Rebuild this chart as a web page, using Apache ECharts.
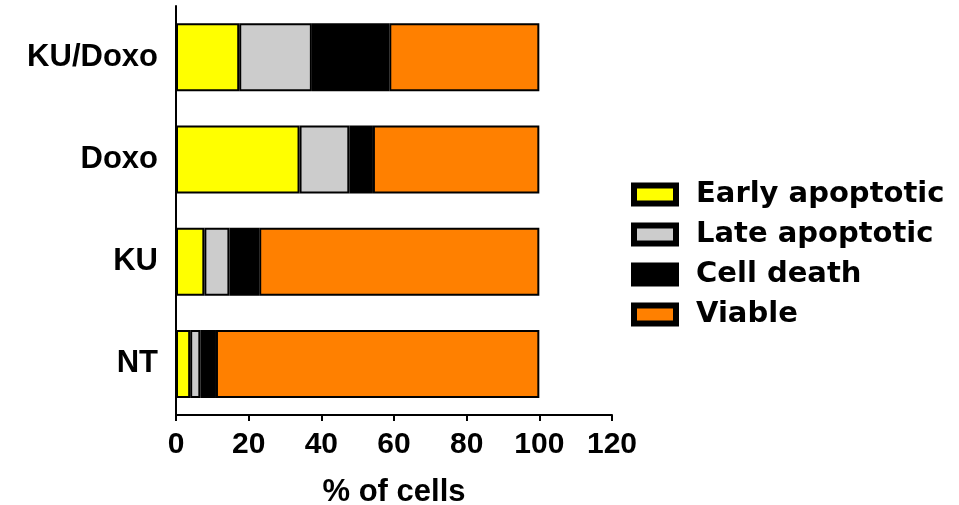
<!DOCTYPE html>
<html>
<head>
<meta charset="utf-8">
<script src="https://cdn.jsdelivr.net/npm/echarts@6/dist/echarts.min.js"></script>
<style>
  html, body { margin: 0; padding: 0; background: #fff; }
  #chart { width: 959px; height: 505px; }
</style>
</head>
<body>
<div id="chart"></div>
<script>
// Treatment groups, bottom to top
const categories = ['NT', 'KU', 'Doxo', 'KU/Doxo'];
// Percent of cells in each state
const earlyApoptotic = [3.9, 7.8, 34.0, 17.4];
const lateApoptotic = [2.8, 6.9, 13.7, 20.0];
const cellDeath = [4.3, 8.2, 6.5, 21.3];
const viable = [89.0, 77.1, 45.8, 41.3];
const xTicks = [0, 20, 40, 60, 80, 100, 120];

const seriesDefs = [
  { name: 'Early apoptotic', data: earlyApoptotic, color: '#FFFF00' },
  { name: 'Late apoptotic', data: lateApoptotic, color: '#CCCCCC' },
  { name: 'Cell death', data: cellDeath, color: '#000000' },
  { name: 'Viable', data: viable, color: '#FF8000' }
];

const axisFont = { fontFamily: 'Liberation Sans, Arial, sans-serif', fontWeight: 'bold', fontSize: 30, color: '#000' };

const chart = echarts.init(document.getElementById('chart'), null, { renderer: 'canvas' });
chart.setOption({
  animation: false,
  backgroundColor: '#fff',
  grid: { left: 176, top: 6, width: 436, height: 409, containLabel: false, outerBoundsMode: 'none' },
  legend: {
    orient: 'vertical',
    left: 631,
    top: 180,
    padding: 0,
    itemWidth: 42,
    itemHeight: 18,
    itemGap: 11,
    icon: 'rect',
    itemStyle: { borderColor: '#000', borderWidth: 6 },
    textStyle: {
      fontFamily: 'DejaVu Sans, sans-serif',
      fontWeight: 'bold',
      fontSize: 29,
      color: '#000',
      padding: [0, 0, 0, 15]
    },
    data: seriesDefs.map(s => s.name)
  },
  xAxis: {
    type: 'value',
    min: xTicks[0],
    max: xTicks[xTicks.length - 1],
    interval: xTicks[1] - xTicks[0],
    name: '% of cells',
    nameLocation: 'middle',
    nameGap: 62,
    nameTextStyle: Object.assign({}, axisFont, { fontSize: 31 }),
    axisLine: { show: true, lineStyle: { color: '#000', width: 2 } },
    axisTick: { show: true, length: 6, lineStyle: { color: '#000', width: 2 } },
    axisLabel: Object.assign({ margin: 15 }, axisFont),
    splitLine: { show: false }
  },
  yAxis: {
    type: 'category',
    data: categories,
    axisLine: { show: true, lineStyle: { color: '#000', width: 2 } },
    axisTick: { show: false },
    axisLabel: Object.assign({ margin: 18, padding: [6, 0, 0, 0] }, axisFont, { fontSize: 31 })
  },
  series: seriesDefs.map(s => ({
    name: s.name,
    type: 'bar',
    stack: 'total',
    barWidth: 68,
    data: s.data,
    itemStyle: { color: s.color, borderColor: '#000', borderWidth: 2 },
    emphasis: { disabled: true }
  }))
});
</script>
</body>
</html>
